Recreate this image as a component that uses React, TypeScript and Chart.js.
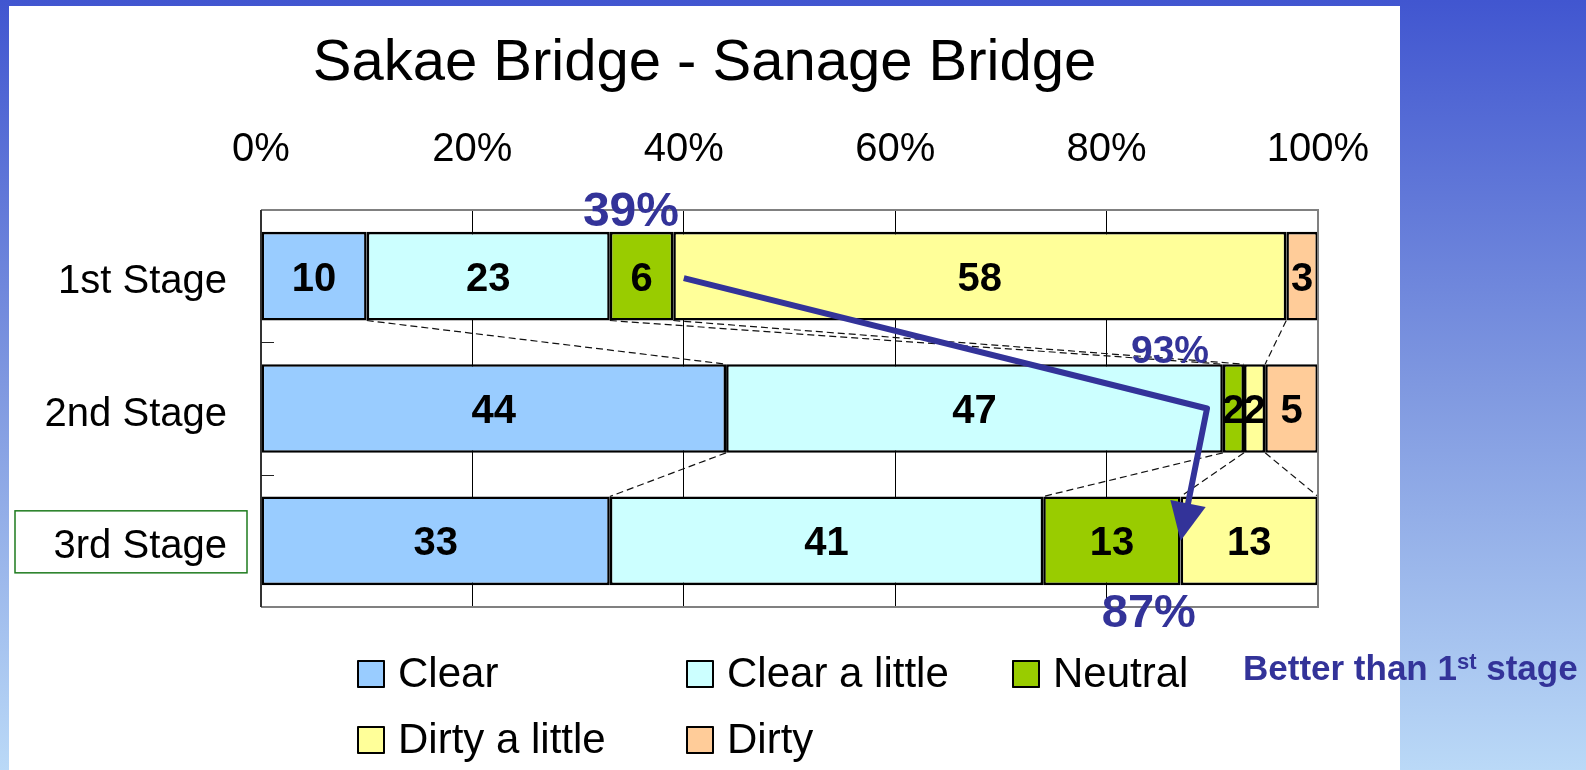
import React, { useEffect, useRef } from 'react';
import { Chart, registerables } from 'chart.js';

Chart.register(...registerables);

const W = 1586;
const H = 770;
const FONT = "'Liberation Sans', Arial, Helvetica, sans-serif";

// ---- data ----
const stages = ['1st Stage', '2nd Stage', '3rd Stage'];
const seriesNames = ['Clear', 'Clear a little', 'Neutral', 'Dirty a little', 'Dirty'];
const clearVals = [10, 44, 33];
const clearLittleVals = [23, 47, 41];
const neutralVals = [6, 2, 13];
const dirtyLittleVals = [58, 2, 13];
const dirtyVals = [3, 5, 0];
const seriesColors = ['#99CCFF', '#CCFFFF', '#99CC00', '#FFFF99', '#FFCC99'];
const axisMin = 0;
const axisMax = 100;
const axisStep = 20;
const titleText = 'Sakae Bridge - Sanage Bridge';
const highlightStage = 2;
// percentage notes: text, value on the x scale where it is centred
const noteTexts = ['39%', '93%', '87%'];
const noteValues = [35, 86, 84];
// arrow path: value on x scale for each stage
const arrowValues = [40, 89.5, 87];
const betterMain = 'Better than 1';
const betterSup = 'st';
const betterEnd = ' stage';

const allSeries = [clearVals, clearLittleVals, neutralVals, dirtyLittleVals, dirtyVals];

const decorPlugin = {
  id: 'decor',
  beforeDraw(chart: any) {
    const ctx = chart.ctx as CanvasRenderingContext2D;
    ctx.save();
    const g = ctx.createLinearGradient(0, 0, 0, H);
    g.addColorStop(0, '#4156D0');
    g.addColorStop(0.5, '#7F98E0');
    g.addColorStop(1, '#BAD9F7');
    ctx.fillStyle = g;
    ctx.fillRect(0, 0, W, H);
    ctx.fillStyle = '#FFFFFF';
    ctx.fillRect(9, 6, 1391, H - 6);
    ctx.fillStyle = '#000';
    ctx.font = `58px ${FONT}`;
    ctx.textAlign = 'center';
    ctx.textBaseline = 'alphabetic';
    ctx.fillText(titleText, 704.5, 80);
    ctx.restore();
  },
  afterDatasetsDraw(chart: any) {
    const ctx = chart.ctx as CanvasRenderingContext2D;
    const ca = chart.chartArea;
    const xs = chart.scales.x;
    const ys = chart.scales.y;
    const nSeries = allSeries.length;
    ctx.save();

    // dashed series lines between stages
    ctx.strokeStyle = '#111';
    ctx.lineWidth = 1.2;
    ctx.setLineDash([7, 4]);
    for (let s = 0; s < stages.length - 1; s++) {
      for (let d = 0; d < nSeries - 1; d++) {
        const a = chart.getDatasetMeta(d).data[s];
        const b = chart.getDatasetMeta(d).data[s + 1];
        ctx.beginPath();
        ctx.moveTo(a.x, a.y + a.height / 2);
        ctx.lineTo(b.x, b.y - b.height / 2);
        ctx.stroke();
      }
    }
    ctx.setLineDash([]);

    // data labels
    ctx.fillStyle = '#000';
    ctx.font = `bold 40px ${FONT}`;
    ctx.textAlign = 'center';
    ctx.textBaseline = 'alphabetic';
    for (let d = 0; d < nSeries; d++) {
      const meta = chart.getDatasetMeta(d);
      meta.data.forEach((el: any, i: number) => {
        const v = allSeries[d][i];
        if (!v) return;
        ctx.fillText(String(v), (el.x + el.base) / 2, el.y + 14.5);
      });
    }

    // plot border
    ctx.lineWidth = 2;
    ctx.strokeStyle = '#808080';
    ctx.beginPath();
    ctx.moveTo(ca.left, ca.top);
    ctx.lineTo(ca.right, ca.top);
    ctx.lineTo(ca.right, ca.bottom);
    ctx.lineTo(ca.left, ca.bottom);
    ctx.stroke();
    ctx.strokeStyle = '#333';
    ctx.beginPath();
    ctx.moveTo(ca.left, ca.top);
    ctx.lineTo(ca.left, ca.bottom);
    ctx.stroke();

    // category boundary ticks (inside)
    ctx.lineWidth = 1;
    ctx.strokeStyle = '#222';
    for (let i = 1; i < stages.length; i++) {
      const yy = Math.round((ys.getPixelForTick(i - 1) + ys.getPixelForTick(i)) / 2) + 0.5;
      ctx.beginPath();
      ctx.moveTo(ca.left, yy);
      ctx.lineTo(ca.left + 13, yy);
      ctx.stroke();
    }

    // highlight box around 3rd Stage label
    const hy = ys.getPixelForTick(highlightStage);
    ctx.strokeStyle = '#1E7B1E';
    ctx.lineWidth = 1.5;
    ctx.strokeRect(15, hy - 30, ca.left - 14 - 15, 62);

    // arrow
    const pts = arrowValues.map((v, i) => [xs.getPixelForValue(v), ys.getPixelForTick(i) + (i === 0 ? 2 : 0)]);
    const tip = pts[pts.length - 1];
    const prev = pts[pts.length - 2];
    const ang = Math.atan2(tip[1] - prev[1], tip[0] - prev[0]);
    const headLen = 38;
    const headHalf = 18;
    const baseX = tip[0] - Math.cos(ang) * headLen;
    const baseY = tip[1] - Math.sin(ang) * headLen;
    ctx.strokeStyle = '#333399';
    ctx.fillStyle = '#333399';
    ctx.lineWidth = 6;
    ctx.lineJoin = 'round';
    ctx.beginPath();
    ctx.moveTo(pts[0][0], pts[0][1]);
    for (let i = 1; i < pts.length - 1; i++) ctx.lineTo(pts[i][0], pts[i][1]);
    ctx.lineTo(baseX + Math.cos(ang) * 4, baseY + Math.sin(ang) * 4);
    ctx.stroke();
    ctx.beginPath();
    ctx.moveTo(tip[0], tip[1]);
    ctx.lineTo(baseX + Math.sin(ang) * headHalf, baseY - Math.cos(ang) * headHalf);
    ctx.lineTo(baseX - Math.sin(ang) * headHalf, baseY + Math.cos(ang) * headHalf);
    ctx.closePath();
    ctx.fill();

    // percentage notes
    ctx.fillStyle = '#333399';
    ctx.textAlign = 'center';
    const bar2 = chart.getDatasetMeta(0).data[1];
    const noteBase = [ca.top + 16, bar2.y - bar2.height / 2 - 1, ca.bottom + 20];
    const noteSize = [48, 39, 47];
    noteTexts.forEach((t, i) => {
      ctx.font = `bold ${noteSize[i]}px ${FONT}`;
      ctx.fillText(t, xs.getPixelForValue(noteValues[i]), noteBase[i]);
    });

    // legend
    const colX = [357, 686, 1012];
    const rowTop = [660, 726];
    ctx.font = `42px ${FONT}`;
    ctx.textAlign = 'left';
    seriesNames.forEach((name, i) => {
      const c = i % 3;
      const r = Math.floor(i / 3);
      const bx = colX[c];
      const by = rowTop[r];
      ctx.fillStyle = seriesColors[i];
      ctx.fillRect(bx, by, 28, 28);
      ctx.strokeStyle = '#000';
      ctx.lineWidth = 2;
      ctx.strokeRect(bx + 1, by + 1, 26, 26);
      ctx.fillStyle = '#000';
      ctx.fillText(name, bx + 41, by + 27);
    });

    // better note
    ctx.fillStyle = '#333399';
    let bx = 1243;
    ctx.font = `bold 35px ${FONT}`;
    ctx.fillText(betterMain, bx, 680);
    bx += ctx.measureText(betterMain).width;
    ctx.font = `bold 22px ${FONT}`;
    ctx.fillText(betterSup, bx, 669);
    bx += ctx.measureText(betterSup).width;
    ctx.font = `bold 35px ${FONT}`;
    ctx.fillText(betterEnd, bx, 680);

    ctx.restore();
  },
};

export default function App() {
  const ref = useRef<HTMLCanvasElement | null>(null);
  useEffect(() => {
    if (!ref.current) return;
    const chart = new Chart(ref.current, {
      type: 'bar',
      data: {
        labels: stages,
        datasets: allSeries.map((vals, i) => ({
          label: seriesNames[i],
          data: vals,
          backgroundColor: seriesColors[i],
          borderColor: '#000',
          borderWidth: 2.6,
          borderSkipped: false,
          barPercentage: 0.67,
          categoryPercentage: 1,
        })),
      },
      options: {
        indexAxis: 'y',
        responsive: false,
        animation: false,
        events: [],
        layout: { padding: { left: 0, top: 0, right: 268, bottom: 163 } },
        plugins: { legend: { display: false }, title: { display: false }, tooltip: { enabled: false } },
        scales: {
          x: {
            position: 'top',
            stacked: true,
            min: axisMin,
            max: axisMax,
            ticks: {
              stepSize: axisStep,
              callback: (v: any) => v + '%',
              color: '#000',
              font: { family: FONT, size: 40 },
              padding: 36,
              maxRotation: 0,
            },
            grid: { color: '#000', lineWidth: 1, drawTicks: false },
            border: { display: false },
            afterFit: (s: any) => { s.height = 210; },
          },
          y: {
            stacked: true,
            ticks: {
              color: '#000',
              font: { family: FONT, size: 40 },
              padding: 34,
              labelOffset: 6,
            },
            grid: { display: false, drawTicks: false },
            border: { display: false },
            afterFit: (s: any) => { s.width = 261; },
          },
        },
      },
      plugins: [decorPlugin],
    });
    return () => chart.destroy();
  }, []);
  return (
    <div style={{ position: 'fixed', left: 0, top: 0, width: W, height: H }}>
      <canvas ref={ref} width={W} height={H} style={{ display: 'block', width: W, height: H }} />
    </div>
  );
}
